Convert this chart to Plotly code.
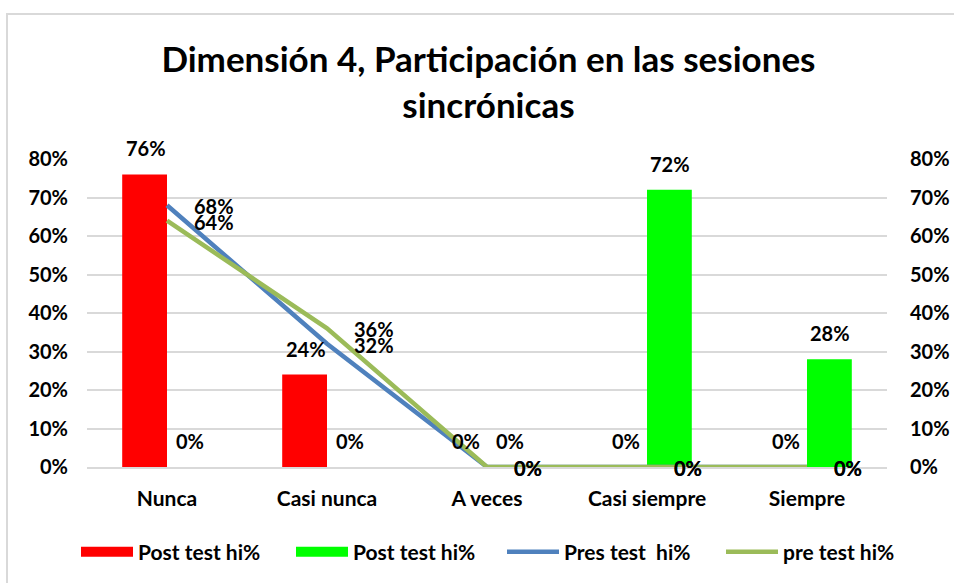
import plotly.graph_objects as go

categories = ["Nunca", "Casi nunca", "A veces", "Casi siempre", "Siempre"]
post_red = [0.76, 0.24, 0.0, 0.0, 0.0]
post_green = [0.0, 0.0, 0.0, 0.72, 0.28]
pres_blue = [0.68, 0.32, 0.0, 0.0, 0.0]
pre_olive = [0.64, 0.36, 0.0, 0.0, 0.0]
tick_vals = [0, 0.1, 0.2, 0.3, 0.4, 0.5, 0.6, 0.7, 0.8]
tick_text = ["0%", "10%", "20%", "30%", "40%", "50%", "60%", "70%", "80%"]

FONT = "Lato"
RED, GREEN, BLUE, OLIVE = "#FF0000", "#00FF00", "#4F81BD", "#9BBB59"
lab_font = dict(family=FONT, size=20, color="#000000", weight="bold")
axis_font = dict(family=FONT, size=20, color="#000000", weight="bold")


def pct(v):
    return f"{round(v * 100)}%"


fig = go.Figure()
# legend entries for the bar series (wide colour swatches)
fig.add_trace(go.Scatter(x=[None], y=[None], mode="lines", name="Post test hi%",
                         line=dict(color=RED, width=10), legendgroup="r", legend="legend"))
fig.add_trace(go.Scatter(x=[None], y=[None], mode="lines", name="Post test hi%",
                         line=dict(color=GREEN, width=10), legendgroup="g", legend="legend2"))
fig.add_trace(go.Bar(x=categories, y=post_red, name="Post test hi%", showlegend=False,
                     legendgroup="r", marker=dict(color=RED, line=dict(width=0))))
fig.add_trace(go.Bar(x=categories, y=post_green, name="Post test hi%", showlegend=False,
                     legendgroup="g", marker=dict(color=GREEN, line=dict(width=0))))
fig.add_trace(go.Scatter(x=categories, y=pres_blue, name="Pres test  hi%", yaxis="y2",
                         mode="lines", line=dict(color=BLUE, width=4.5), cliponaxis=False,
                         legend="legend3"))
fig.add_trace(go.Scatter(x=categories, y=pre_olive, name="pre test hi%", yaxis="y2",
                         mode="lines", line=dict(color=OLIVE, width=4.5), cliponaxis=False,
                         legend="legend4"))

# data labels
for c, v in zip(categories, post_red):
    fig.add_annotation(x=c, y=v, text=pct(v), xshift=-21, yshift=26, showarrow=False,
                       xanchor="center", yanchor="middle", font=lab_font)
for c, v in zip(categories, post_green):
    fig.add_annotation(x=c, y=v, text=pct(v), xshift=23, yshift=26, showarrow=False,
                       xanchor="center", yanchor="middle", font=lab_font)
for series in (pres_blue, pre_olive):
    for c, v in zip(categories, series):
        fig.add_annotation(x=c, y=v, yref="y2", text=pct(v), xshift=25, yshift=-1,
                           showarrow=False, xanchor="left", yanchor="middle", font=lab_font)

legend_style = dict(orientation="h", xref="container", xanchor="left",
                    y=-0.21, yanchor="top", bgcolor="rgba(0,0,0,0)",
                    font=dict(family=FONT, size=21, color="#000000", weight="bold"),
                    itemwidth=52)

fig.update_layout(
    width=954, height=583,
    paper_bgcolor="white", plot_bgcolor="white",
    margin=dict(l=87, r=67, t=159, b=116, autoexpand=False),
    barmode="group", bargap=0.44, bargroupgap=0,
    title=dict(text="<b>Dimensión 4, Participación en las sesiones<br>sincrónicas</b>",
               font=dict(family=FONT, size=35, color="#000000"),
               x=0.512, xanchor="center", yref="container", y=1 - 72 / 583, yanchor="top"),
    xaxis=dict(type="category", tickfont=dict(axis_font, size=21), showgrid=False,
               showline=True, linecolor="#D9D9D9", linewidth=2,
               ticks="", ticklabelstandoff=12),
    yaxis=dict(range=[0, 0.8], tickvals=tick_vals, ticktext=tick_text,
               tickfont=axis_font, showgrid=True, gridcolor="#D9D9D9", gridwidth=2,
               zeroline=False, ticks="", ticklabelstandoff=18),
    yaxis2=dict(range=[0, 0.8], tickvals=tick_vals, ticktext=tick_text,
                tickfont=axis_font, overlaying="y", side="right", showgrid=False,
                zeroline=False, ticks="", ticklabelstandoff=22),
    legend=dict(legend_style, x=76 / 954),
    legend2=dict(legend_style, x=291 / 954),
    legend3=dict(legend_style, x=502 / 954),
    legend4=dict(legend_style, x=721 / 954),
    shapes=[dict(type="rect", xref="paper", yref="paper",
                 x0=(7 - 87) / 800, x1=1.2, y0=-0.5, y1=(467 - 14) / 308,
                 line=dict(color="#D9D9D9", width=2), layer="below")],
)

fig.write_html("out.html", config={"displayModeBar": False},
               post_script="document.body.style.margin='0';document.body.style.overflow='hidden';")
